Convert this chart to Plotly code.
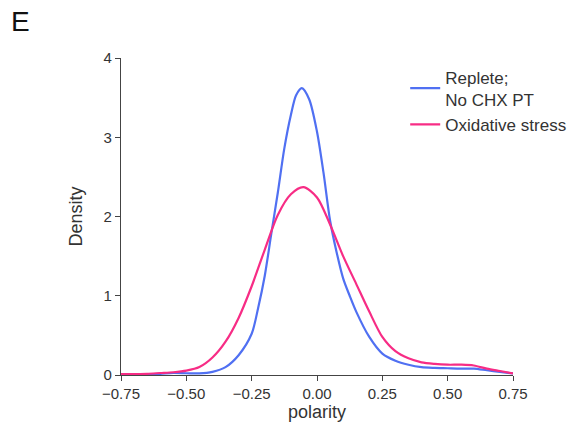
import plotly.graph_objects as go

x_replete = [-0.75, -0.7, -0.65, -0.6, -0.55, -0.5, -0.45, -0.4, -0.35, -0.3, -0.25, -0.225, -0.2, -0.175,
             -0.15, -0.125, -0.1, -0.08, -0.058, -0.03, 0.0, 0.025, 0.05, 0.075, 0.1, 0.125, 0.15, 0.2, 0.25,
             0.3, 0.35, 0.4, 0.45, 0.5, 0.55, 0.6, 0.65, 0.7, 0.75]
y_replete = [0.005, 0.007, 0.01, 0.015, 0.025, 0.022, 0.02, 0.04, 0.10, 0.25, 0.52, 0.85, 1.25, 1.78,
             2.3, 2.86, 3.28, 3.53, 3.62, 3.48, 3.07, 2.55, 1.95, 1.55, 1.22, 1.0, 0.80, 0.48, 0.27,
             0.18, 0.13, 0.10, 0.09, 0.085, 0.08, 0.08, 0.06, 0.04, 0.02]

x_oxid = [-0.75, -0.7, -0.65, -0.6, -0.55, -0.5, -0.45, -0.4, -0.35, -0.3, -0.25, -0.2, -0.15, -0.1,
          -0.052, 0.0, 0.05, 0.1, 0.15, 0.2, 0.25, 0.3, 0.35, 0.4, 0.45, 0.5, 0.55, 0.6,
          0.65, 0.7, 0.75]
y_oxid = [0.01, 0.012, 0.015, 0.025, 0.035, 0.055, 0.10, 0.22, 0.42, 0.72, 1.12, 1.58, 2.02, 2.28,
          2.37, 2.24, 1.90, 1.50, 1.15, 0.80, 0.48, 0.30, 0.21, 0.16, 0.14, 0.13, 0.13, 0.12,
          0.08, 0.05, 0.02]

x_ticks = [-0.75, -0.5, -0.25, 0.0, 0.25, 0.5, 0.75]
x_ticklabels = ["\u22120.75", "\u22120.50", "\u22120.25", "0.00", "0.25", "0.50", "0.75"]
y_ticks = [0, 1, 2, 3, 4]

fig = go.Figure()
fig.add_trace(go.Scatter(x=x_replete, y=y_replete, mode="lines", name="Replete;<br>No CHX PT",
                         line=dict(color="#5070f2", width=2.2, shape="spline", smoothing=0.8)))
fig.add_trace(go.Scatter(x=x_oxid, y=y_oxid, mode="lines", name="Oxidative stress",
                         line=dict(color="#f72c85", width=2.2, shape="spline", smoothing=0.8)))

axis_common = dict(showgrid=False, zeroline=False, showline=True, linecolor="#444", linewidth=1.2,
                   ticks="outside", ticklen=5, tickcolor="#444", tickwidth=1.2,
                   tickfont=dict(size=15, color="#333"))
fig.update_xaxes(range=[-0.75, 0.75], tickvals=x_ticks, ticktext=x_ticklabels,
                 title=dict(text="polarity", font=dict(size=18, color="#333"), standoff=4), **axis_common)
fig.update_yaxes(range=[0, 4], tickvals=y_ticks,
                 title=dict(text="Density", font=dict(size=18, color="#333"), standoff=16), **axis_common)

fig.update_layout(
    width=572, height=431,
    margin=dict(l=121, r=59, t=58, b=56, autoexpand=False),
    paper_bgcolor="white", plot_bgcolor="white",
    font=dict(family="Liberation Sans, Arial, sans-serif", color="#333"),
    legend=dict(x=0.725, y=0.995, xanchor="left", yanchor="top", font=dict(size=17, color="#333"),
                bgcolor="rgba(0,0,0,0)", tracegroupgap=0),
)
fig.add_annotation(text="E", xref="paper", yref="paper", x=-0.286, y=1.114, xanchor="left", yanchor="middle",
                   showarrow=False, font=dict(size=28, color="#111"))

fig.write_html("out.html")
